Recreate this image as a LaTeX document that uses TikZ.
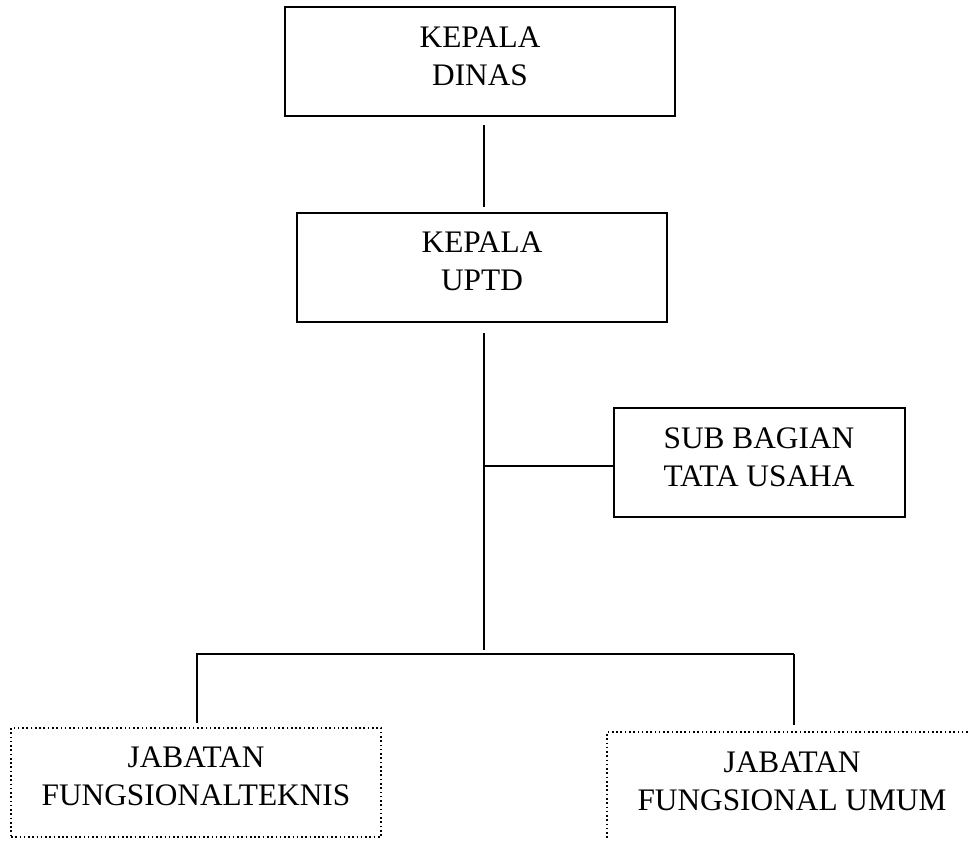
\documentclass[tikz,border=0pt]{standalone}
\usepackage{fontspec}
\setmainfont{Liberation Serif}
\begin{document}
\begin{tikzpicture}[x=0.75pt,y=-0.75pt,
  solidbox/.style={draw=black,line width=1.1pt,inner sep=0pt},
  dotbox/.style={draw=black,line width=1.2pt,dotted,inner sep=0pt},
  lbl/.style={inner sep=0pt,align=center,font=\fontsize{23.5}{28.5}\selectfont},
  conn/.style={draw=black,line width=1.1pt}]
\useasboundingbox (0,0) rectangle (968,840);
\clip (0,0) rectangle (968,840);
% boxes
\node[solidbox,minimum width=292.5pt,minimum height=81.75pt] (dinas) at (480,61.5) {};
\node[lbl] (dinasT) at (480,56) {KEPALA\\DINAS};
\node[solidbox,minimum width=277.5pt,minimum height=81.75pt] (uptd) at (482,267.5) {};
\node[lbl] (uptdT) at (482,261) {KEPALA\\UPTD};
\node[solidbox,minimum width=218.25pt,minimum height=81.75pt] (sub) at (759.5,462.5) {};
\node[lbl] (subT) at (759,457.5) {SUB BAGIAN\\TATA USAHA};
\node[dotbox,minimum width=277.5pt,minimum height=81.75pt] (jft) at (196,782.5) {};
\node[lbl] (jftT) at (196,776) {JABATAN\\FUNGSIONALTEKNIS};
\node[dotbox,minimum width=287.25pt,minimum height=96pt] (jfu) at (798.5,796) {};
\node[lbl] (jfuT) at (792,781.5) {JABATAN\\FUNGSIONAL UMUM};
% connector coordinates
\coordinate (a1) at (484,125);
\coordinate (a2) at (484,207);
\coordinate (b1) at (484,333);
\coordinate (b2) at (484,650);
\coordinate (s1) at (484,466);
\coordinate (s2) at (sub.west |- s1);
\coordinate (h1) at (196,654);
\coordinate (h2) at (794,654);
\coordinate (l2) at (197,723);
\coordinate (r2) at (794,725);
\coordinate (l1) at (197,654);
% connectors
\draw[conn] (a1) -- (a2);
\draw[conn] (b1) -- (b2);
\draw[conn] (s1) -- (s2);
\draw[conn] (h1) -- (h2);
\draw[conn] (l1) -- (l2);
\draw[conn] (h2) -- (r2);
\end{tikzpicture}
\end{document}
